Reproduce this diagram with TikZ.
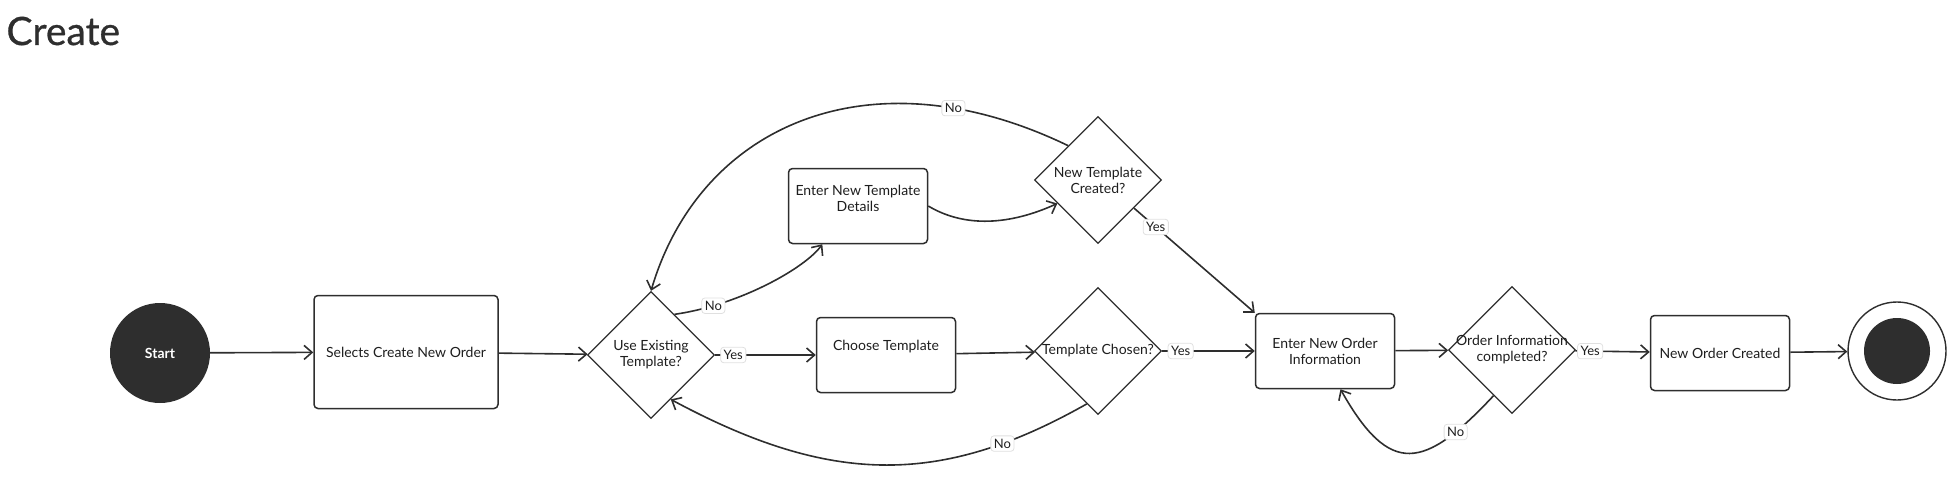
\documentclass[tikz,border=0pt]{standalone}
\usepackage{fontspec}
\setmainfont{Lato}
\newfontfamily\titlefont[FakeBold=0.8]{Lato}
\usepackage{tikz}
\usetikzlibrary{shapes.geometric, arrows.meta}
\definecolor{ink}{HTML}{2E2E2E}
\definecolor{txt}{HTML}{1E1E1E}

\begin{document}
\begin{tikzpicture}[x=1pt, y=-1pt, >={Straight Barb[length=8pt,width=14pt]},
    every node/.style={text=txt, font=\fontsize{14}{16}\selectfont},
    actbox/.style={draw=ink, line width=1.5pt, rounded corners=4pt, fill=white, align=center,
        minimum width=139, minimum height=75, inner sep=0pt},
    decision/.style={draw=ink, line width=1.3pt, diamond, aspect=1, minimum width=127,
        minimum height=127, inner sep=0pt},
    dtext/.style={align=center},
    flow/.style={->, draw=ink, line width=1.6pt},
    lbl/.style={draw=black!12, fill=white, rounded corners=3pt, line width=0.8pt,
        font=\fontsize{13}{15}\selectfont, inner xsep=3pt, inner ysep=3pt}]
    \useasboundingbox (0,0) rectangle (1951,495);

    \node[anchor=base west, font=\titlefont\fontsize{39}{44}\selectfont, text=ink] (title) at (3,45) {Create};

    \node[circle, fill=ink, minimum size=100, inner sep=0pt, text=white,
        font=\bfseries\fontsize{14}{16}\selectfont] (start) at (160,353) {Start};
    \node[actbox, minimum width=184, minimum height=113] (select) at (406,352) {Selects Create New Order};
    \node[decision, label={[dtext]center:Use Existing\\Template?}] (useTpl) at (651,355) {};
    \node[actbox, label={[dtext, yshift=7.5pt]center:Enter New Template\\Details}] (newTpl) at (858,206) {};
    \node[actbox, label={[yshift=8pt]center:Choose Template}] (chooseTpl) at (886,355) {};
    \node[decision, label={[dtext]center:New Template\\Created?}] (tplMade) at (1098,180) {};
    \node[decision, label={[dtext]center:Template Chosen?}] (tplChosen) at (1098,351) {};
    \node[actbox] (orderInfo) at (1325,351) {Enter New Order\\Information};
    \node[decision, label={[dtext]center:Order Information\\completed?}] (infoDone) at (1512,350) {};
    \node[actbox] (created) at (1720,353) {New Order Created};
    \node[circle, draw=ink, line width=1.4pt, fill=white, minimum size=98] (stop) at (1897,351) {};
    \node[circle, fill=ink, minimum size=66, inner sep=0pt] (stopDot) at (stop.center) {};

    \draw[flow] (start) -- (select);
    \draw[flow] (select) -- (useTpl);
    \draw[flow] (useTpl) -- node[lbl, pos=0.18] {Yes} (chooseTpl);
    \draw[flow] (chooseTpl) -- (tplChosen);
    \draw[flow] (tplChosen) -- node[lbl, pos=0.2] {Yes} (orderInfo);
    \draw[flow] (orderInfo) -- (infoDone);
    \draw[flow] (infoDone) -- node[lbl, pos=0.2] {Yes} (created);
    \draw[flow] (created) -- (stop);
    \draw[flow] (tplMade.-38) -- node[lbl, pos=0.18] {Yes} (orderInfo.north west);
    \draw[flow] (useTpl.60) .. controls (740,305) and (805,268) .. (newTpl.-133)
        node[lbl, pos=0.2] {No};
    \draw[flow] (newTpl.east) .. controls (965,228) and (1010,225) .. (tplMade.210);
    \draw[flow] (tplMade.131) .. controls (870,50) and (700,125) .. (useTpl.north)
        node[lbl, pos=0.2] {No};
    \draw[flow] (tplChosen.-102) .. controls (940,487) and (830,485) .. (useTpl.-66)
        node[lbl, pos=0.2] {No};
    \draw[flow] (infoDone.-112) .. controls (1424,470) and (1390,477) .. (orderInfo.-68)
        node[lbl, pos=0.2] {No};
\end{tikzpicture}
\end{document}
